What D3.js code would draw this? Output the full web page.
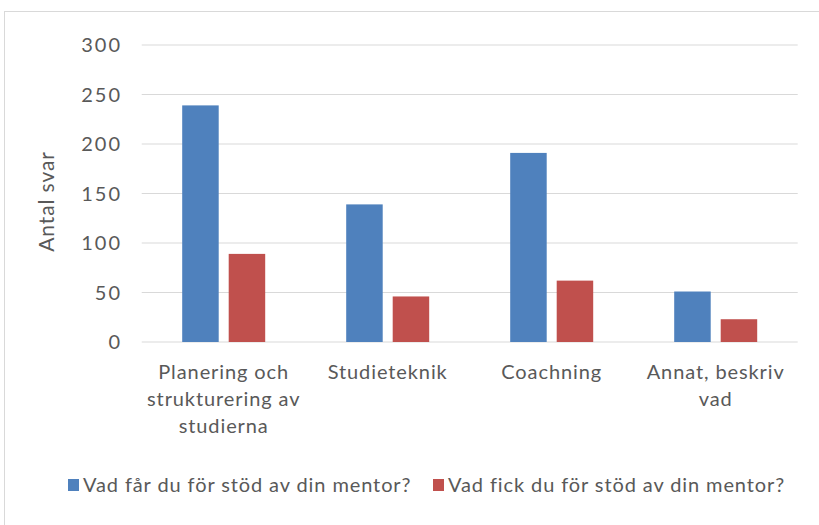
<!DOCTYPE html>
<html>
<head>
<meta charset="utf-8">
<script src="https://cdn.jsdelivr.net/npm/d3@7"></script>
<style>
  body { margin: 0; background: #fff; }
  text { font-family: Lato, "Open Sans", sans-serif; fill: #595959; letter-spacing: 0.9px; }
</style>
</head>
<body>
<svg id="chart" width="819" height="525"></svg>
<script>
// data
var categories = [["Planering och", "strukturering av", "studierna"], ["Studieteknik"], ["Coachning"], ["Annat, beskriv", "vad"]];
var seriesNames = ["Vad får du för stöd av din mentor?", "Vad fick du för stöd av din mentor?"];
var nowValues = [239, 139, 191, 51];
var thenValues = [89, 46, 62, 23];
var yTicks = [0, 50, 100, 150, 200, 250, 300];
var colors = ["#4F81BD", "#C0504D"];

var svg = d3.select("#chart");

// chart frame
svg.append("rect")
  .attr("x", 4.5).attr("y", 11.5)
  .attr("width", 830).attr("height", 530)
  .attr("fill", "none").attr("stroke", "#d9d9d9");

var plotLeft = 141.7, plotRight = 797.7, plotTop = 45, plotBottom = 342;

var y = d3.scaleLinear().domain([0, 300]).range([plotBottom, plotTop]);
var x0 = d3.scaleBand().domain(d3.range(categories.length)).range([plotLeft, plotRight]);
var x1 = d3.scaleBand().domain([0, 1]).range([0, 83]).paddingInner(0.215);
var offset = (x0.bandwidth() - 83) / 2;

// gridlines
svg.append("g").selectAll("line")
  .data(yTicks)
  .join("line")
  .attr("x1", plotLeft).attr("x2", plotRight)
  .attr("y1", d => y(d)).attr("y2", d => y(d))
  .attr("stroke", "#d9d9d9").attr("stroke-width", 1.2);

// y tick labels
svg.append("g").selectAll("text")
  .data(yTicks)
  .join("text")
  .attr("x", 122).attr("y", d => y(d))
  .attr("dy", "0.35em")
  .attr("text-anchor", "end")
  .attr("font-size", "20px")
  .style("letter-spacing", "2px")
  .text(d => d);

// axis title
svg.append("text")
  .attr("transform", "translate(47," + ((plotTop + plotBottom) / 2 + 8) + ") rotate(-90)")
  .attr("text-anchor", "middle")
  .attr("dy", "0.35em")
  .attr("font-size", "21px")
  .text("Antal svar");

// bars
var rows = categories.map((c, i) => [nowValues[i], thenValues[i]]);
var groups = svg.append("g").selectAll("g")
  .data(rows)
  .join("g")
  .attr("transform", (d, i) => "translate(" + (x0(i) + offset) + ",0)");

groups.selectAll("rect")
  .data(d => d)
  .join("rect")
  .attr("x", (d, j) => x1(j))
  .attr("y", d => y(d))
  .attr("width", x1.bandwidth())
  .attr("height", d => plotBottom - y(d))
  .attr("fill", (d, j) => colors[j]);

// category labels
var catLabels = svg.append("g").selectAll("text")
  .data(categories)
  .join("text")
  .attr("x", (d, i) => x0(i) + x0.bandwidth() / 2)
  .attr("y", 372)
  .attr("text-anchor", "middle")
  .attr("font-size", "20px");

catLabels.selectAll("tspan")
  .data(d => d)
  .join("tspan")
  .attr("x", function() { return this.parentNode.getAttribute("x"); })
  .attr("dy", (d, k) => k === 0 ? "0.35em" : "27px")
  .text(d => d);

// legend
var legendX = [68, 433];
var legend = svg.append("g").selectAll("g")
  .data(seriesNames)
  .join("g")
  .attr("transform", (d, i) => "translate(" + legendX[i] + ",485)");

legend.append("rect")
  .attr("x", 0).attr("y", -6)
  .attr("width", 11).attr("height", 12)
  .attr("fill", (d, i) => colors[i]);

legend.append("text")
  .attr("x", 15).attr("dy", "0.35em")
  .attr("font-size", "20px")
  .text(d => d);
</script>
</body>
</html>
